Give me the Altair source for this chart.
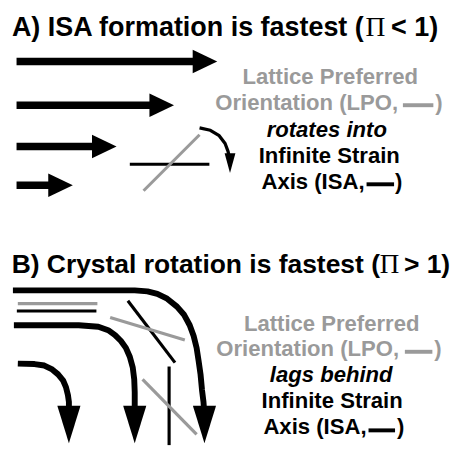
import altair as alt
import pandas as pd

GRAY = "#9a9a9a"
BLACK = "#000000"

# ---------------- Panel A ----------------
# straight flow arrows
a_arrow_y = [58.5, 103, 145, 184.5]
a_shaft_start = [16.7, 16.7, 16.7, 16.7]
a_tip_x = [221, 177, 118.5, 74]
a_head_len = 25
a_shaft_w = 7.5

# ISA (black) and LPO (gray) markers
a_isa_x = [132, 213]
a_isa_y = [163, 163]
a_lpo_x = [146, 203]
a_lpo_y = [190, 133]

# rotation arc with small arrow head
a_arc_x = [203, 214, 223, 229, 232, 233]
a_arc_y = [126, 128.5, 134, 142, 150, 155]
a_arc_tip = [234, 172]

# ---------------- Panel B ----------------
b_c1_x = [13, 137, 150, 160, 170, 180, 187, 193, 197, 200, 202, 204, 205.5, 207, 207.5]
b_c1_y = [291.5, 291.5, 292.5, 295, 300, 308, 316, 327, 338, 350, 363, 377, 393, 405, 412]
b_c2_x = [14, 80, 100, 110, 117, 123, 128, 132, 135, 136.5, 137, 137]
b_c2_y = [327, 327, 328.5, 332, 337, 343, 350, 359, 370, 382, 395, 410]
b_c3_x = [18, 35, 45, 53, 59, 64, 67, 69, 70, 70]
b_c3_y = [366, 366.5, 368, 372, 377, 383, 390, 398, 405, 412]
b_tip_x = [208, 137, 70]
b_tip_y = [447, 447, 447]
b_head_len = 38

b_gray_short = ([18, 99], [305, 305])
b_black_short = ([17, 98], [312.5, 312.5])
b_black_diag = ([130, 178], [302, 365])
b_gray_diag = ([112, 188], [319, 342])
b_black_vert = ([172, 172], [369, 449])
b_gray_diag2 = ([145, 200], [382, 438])

# legend dashes inside the text
dash_x = [[410, 441], [373, 401], [412, 440], [375, 402]]
dash_y = [103, 183.5, 354, 434]
dash_c = [GRAY, BLACK, GRAY, BLACK]

# ---------------- Texts ----------------
# (text, x, baseline y, font size)
title_parts = [
    ("A) ISA formation is fastest (", 12, 33, 27.4),
    ("< 1)", 398, 33, 27.4),
    ("B) Crystal rotation is fastest (", 11.7, 273.5, 26.9),
    ("> 1)", 411, 273.5, 26.9),
]
title_pi = [("Π", 372, 33, 28), ("Π", 386.5, 273.5, 27.5)]

center_lines = [
    ("Lattice Preferred", 336, 81.5, GRAY),
    ("Infinite Strain", 335, 161.5, BLACK),
    ("Lattice Preferred", 337.5, 332.5, GRAY),
    ("Infinite Strain", 338, 411.5, BLACK),
]
left_lines = [
    ("Orientation (LPO,", 219, 107.5, GRAY),
    (")", 443, 107.5, GRAY),
    ("Axis (ISA,", 266, 188, BLACK),
    (")", 402, 188, BLACK),
    ("Orientation (LPO,", 220, 358.5, GRAY),
    (")", 442, 358.5, GRAY),
    ("Axis (ISA,", 268, 438, BLACK),
    (")", 404, 438, BLACK),
]
italic_lines = [
    ("rotates into", 332.5, 135, BLACK),
    ("lags behind", 337, 385, BLACK),
]
body_size = 22.5

# ---------------- build tables ----------------
line_rows = []
gid = 0


def add_line(xs, ys, color, w):
    global gid
    for k, (x, y) in enumerate(zip(xs, ys)):
        line_rows.append({"id": gid, "k": k, "x": x, "y": y, "c": color, "w": w})
    gid += 1


for y, x0, tip in zip(a_arrow_y, a_shaft_start, a_tip_x):
    add_line([x0, tip - a_head_len + 2], [y, y], BLACK, a_shaft_w)
add_line(a_isa_x, a_isa_y, BLACK, 3)
add_line(a_lpo_x, a_lpo_y, GRAY, 3)
add_line(a_arc_x, a_arc_y, BLACK, 3.3)
add_line(b_c1_x, b_c1_y, BLACK, 6)
add_line(b_c2_x, b_c2_y, BLACK, 6)
add_line(b_c3_x, b_c3_y, BLACK, 6)
for xs, ys, c in [
    (*b_gray_short, GRAY),
    (*b_black_short, BLACK),
    (*b_black_diag, BLACK),
    (*b_gray_diag, GRAY),
    (*b_black_vert, BLACK),
    (*b_gray_diag2, GRAY),
]:
    add_line(xs, ys, c, 3.2)
for xs, y, c in zip(dash_x, dash_y, dash_c):
    add_line(xs, [y, y], c, 4)

lines_df = pd.DataFrame(line_rows)

head_rows = []
for y, tip in zip(a_arrow_y, a_tip_x):
    head_rows.append({"x": tip - a_head_len / 2, "y": y,
                      "p": "M-1,-0.95L1,0L-1,0.95Z", "s": a_head_len ** 2, "a": 0})
head_rows.append({"x": a_arc_tip[0], "y": a_arc_tip[1] - 10,
                  "p": "M-1,-0.55L1,0L-1,0.55Z", "s": 400, "a": 90})
for tx, ty in zip(b_tip_x, b_tip_y):
    head_rows.append({"x": tx, "y": ty - b_head_len / 2,
                      "p": "M-1,-0.62L1,0L-1,0.62Z", "s": b_head_len ** 2, "a": 90})
heads_df = pd.DataFrame(head_rows)

xs = alt.Scale(domain=[8, 461], nice=False, zero=False)
ys = alt.Scale(domain=[8, 449], nice=False, zero=False, reverse=True)

X = alt.X("x:Q", scale=xs, axis=None)
Y = alt.Y("y:Q", scale=ys, axis=None)

lines = alt.Chart(lines_df).mark_line(strokeCap="butt", strokeJoin="round").encode(
    x=X, y=Y,
    detail="id:N",
    order=alt.Order("k:Q"),
    color=alt.Color("c:N", scale=None),
    strokeWidth=alt.StrokeWidth("w:Q", scale=None),
)

heads = alt.Chart(heads_df).mark_point(filled=True, opacity=1, strokeWidth=0, color=BLACK).encode(
    x=X, y=Y,
    shape=alt.Shape("p:N", scale=None),
    size=alt.Size("s:Q", scale=None),
    angle=alt.Angle("a:Q", scale=None),
)


def text_df(items):
    return pd.DataFrame([{"t": t, "x": x, "y": y, "c": c} for t, x, y, c in items])


titles_df = pd.DataFrame([{"t": t, "x": x, "y": y, "fs": f} for t, x, y, f in title_parts])
pi_df = pd.DataFrame([{"t": t, "x": x, "y": y, "fs": f} for t, x, y, f in title_pi])

titles = alt.Chart(titles_df).mark_text(
    font="Liberation Sans", fontWeight="bold", align="left",
    baseline="alphabetic", color=BLACK
).encode(x=X, y=Y, text="t:N", size=alt.Size("fs:Q", scale=None))

pis = alt.Chart(pi_df).mark_text(
    font="Liberation Serif", fontWeight="normal", align="left",
    baseline="alphabetic", color=BLACK
).encode(x=X, y=Y, text="t:N", size=alt.Size("fs:Q", scale=None))

center_t = alt.Chart(text_df(center_lines)).mark_text(
    font="Liberation Sans", fontWeight="bold", fontSize=body_size, align="center",
    baseline="alphabetic"
).encode(x=X, y=Y, text="t:N", color=alt.Color("c:N", scale=None))

left_t = alt.Chart(text_df(left_lines)).mark_text(
    font="Liberation Sans", fontWeight="bold", fontSize=body_size, align="left",
    baseline="alphabetic"
).encode(x=X, y=Y, text="t:N", color=alt.Color("c:N", scale=None))

italic_t = alt.Chart(text_df(italic_lines)).mark_text(
    font="Liberation Sans", fontWeight="bold", fontStyle="italic", fontSize=body_size,
    align="center", baseline="alphabetic"
).encode(x=X, y=Y, text="t:N", color=alt.Color("c:N", scale=None))

chart = alt.layer(lines, heads, titles, pis, center_t, left_t, italic_t).properties(
    width=453, height=441,
    autosize=alt.AutoSizeParams(type="none"),
    padding=0,
).configure_view(stroke=None)

chart.save("out.html", embed_options={"renderer": "svg", "actions": False})
